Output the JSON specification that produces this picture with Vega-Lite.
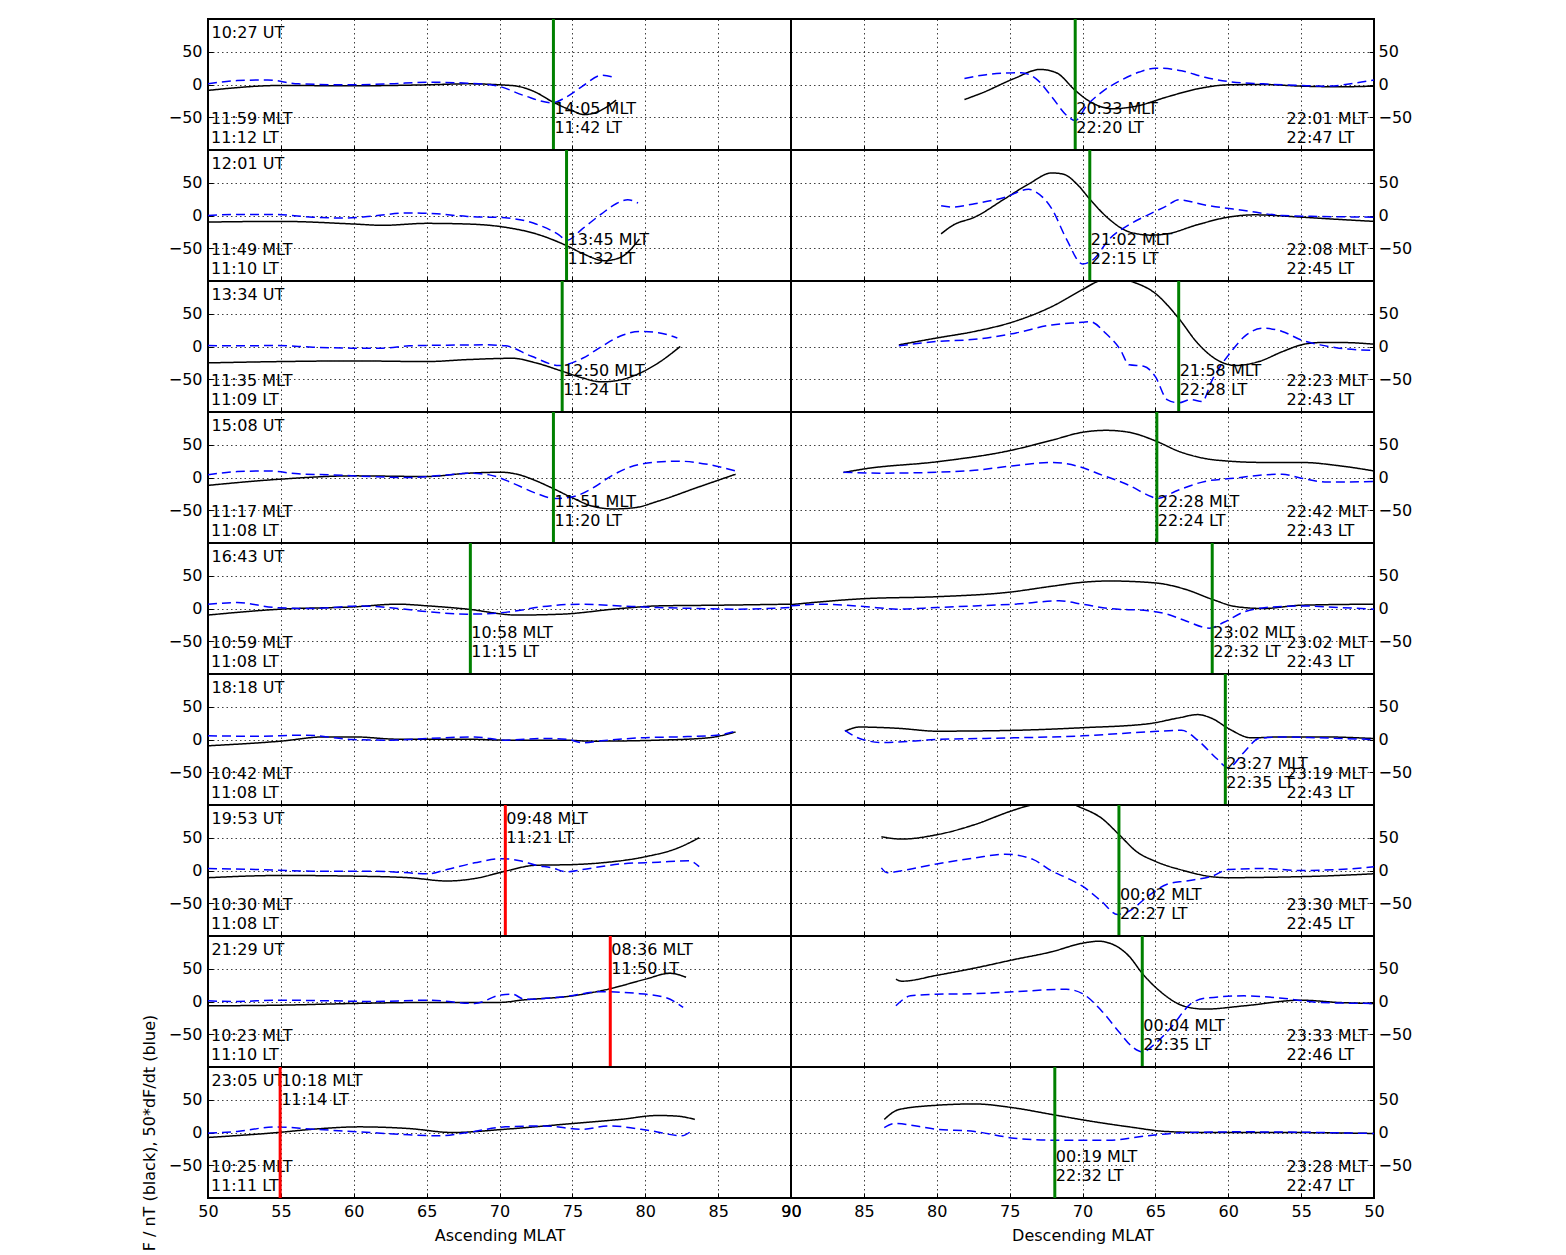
{
"$schema":"https://vega.github.io/schema/vega-lite/v6.json",
"padding":{"left":140,"top":16,"right":10,"bottom":0},
"background":"#ffffff",
"columns":2,
"spacing":0,
"bounds":"flush",
"datasets":{
"t":[
{"r":1,"s":"L","ut":"10:27 UT","cn":"11:59 MLT\n11:12 LT","bx":73.7,"bc":"green","bl":"14:05 MLT\n11:42 LT"},
{"r":1,"s":"R","ut":"","cn":"22:01 MLT\n22:47 LT","bx":70.5,"bc":"green","bl":"20:33 MLT\n22:20 LT"},
{"r":2,"s":"L","ut":"12:01 UT","cn":"11:49 MLT\n11:10 LT","bx":74.6,"bc":"green","bl":"13:45 MLT\n11:32 LT"},
{"r":2,"s":"R","ut":"","cn":"22:08 MLT\n22:45 LT","bx":69.5,"bc":"green","bl":"21:02 MLT\n22:15 LT"},
{"r":3,"s":"L","ut":"13:34 UT","cn":"11:35 MLT\n11:09 LT","bx":74.3,"bc":"green","bl":"12:50 MLT\n11:24 LT"},
{"r":3,"s":"R","ut":"","cn":"22:23 MLT\n22:43 LT","bx":63.4,"bc":"green","bl":"21:58 MLT\n22:28 LT"},
{"r":4,"s":"L","ut":"15:08 UT","cn":"11:17 MLT\n11:08 LT","bx":73.7,"bc":"green","bl":"11:51 MLT\n11:20 LT"},
{"r":4,"s":"R","ut":"","cn":"22:42 MLT\n22:43 LT","bx":64.9,"bc":"green","bl":"22:28 MLT\n22:24 LT"},
{"r":5,"s":"L","ut":"16:43 UT","cn":"10:59 MLT\n11:08 LT","bx":68.0,"bc":"green","bl":"10:58 MLT\n11:15 LT"},
{"r":5,"s":"R","ut":"","cn":"23:02 MLT\n22:43 LT","bx":61.1,"bc":"green","bl":"23:02 MLT\n22:32 LT"},
{"r":6,"s":"L","ut":"18:18 UT","cn":"10:42 MLT\n11:08 LT","bx":null,"bc":"none","bl":""},
{"r":6,"s":"R","ut":"","cn":"23:19 MLT\n22:43 LT","bx":60.2,"bc":"green","bl":"23:27 MLT\n22:35 LT"},
{"r":7,"s":"L","ut":"19:53 UT","cn":"10:30 MLT\n11:08 LT","bx":70.4,"bc":"red","bl":"09:48 MLT\n11:21 LT"},
{"r":7,"s":"R","ut":"","cn":"23:30 MLT\n22:45 LT","bx":67.5,"bc":"green","bl":"00:02 MLT\n22:27 LT"},
{"r":8,"s":"L","ut":"21:29 UT","cn":"10:23 MLT\n11:10 LT","bx":77.6,"bc":"red","bl":"08:36 MLT\n11:50 LT"},
{"r":8,"s":"R","ut":"","cn":"23:33 MLT\n22:46 LT","bx":65.9,"bc":"green","bl":"00:04 MLT\n22:35 LT"},
{"r":9,"s":"L","ut":"23:05 UT","cn":"10:25 MLT\n11:11 LT","bx":54.95,"bc":"red","bl":"10:18 MLT\n11:14 LT"},
{"r":9,"s":"R","ut":"","cn":"23:28 MLT\n22:47 LT","bx":71.9,"bc":"green","bl":"00:19 MLT\n22:32 LT"}
],
"c":[
{"r":1,"s":"L","v":"F","x":50,"y":-9},{"r":1,"s":"L","v":"F","x":55,"y":-1.5},{"r":1,"s":"L","v":"F","x":60,"y":-2},{"r":1,"s":"L","v":"F","x":65,"y":-0.5},{"r":1,"s":"L","v":"F","x":67.8,"y":1},{"r":1,"s":"L","v":"F","x":70.4,"y":-1},{"r":1,"s":"L","v":"F","x":71.2,"y":-2.5},{"r":1,"s":"L","v":"F","x":72.5,"y":-12},{"r":1,"s":"L","v":"F","x":73.6,"y":-26},{"r":1,"s":"L","v":"F","x":75,"y":-40},{"r":1,"s":"L","v":"F","x":75.8,"y":-46},{"r":1,"s":"L","v":"F","x":76.7,"y":-42},{"r":1,"s":"L","v":"F","x":78,"y":-24},
{"r":1,"s":"L","v":"dF","x":50,"y":1},{"r":1,"s":"L","v":"dF","x":52,"y":6},{"r":1,"s":"L","v":"dF","x":54.1,"y":7},{"r":1,"s":"L","v":"dF","x":56.2,"y":1},{"r":1,"s":"L","v":"dF","x":59.9,"y":-0.5},{"r":1,"s":"L","v":"dF","x":62.5,"y":1},{"r":1,"s":"L","v":"dF","x":65.1,"y":3.5},{"r":1,"s":"L","v":"dF","x":67.8,"y":2},{"r":1,"s":"L","v":"dF","x":69.9,"y":-2.5},{"r":1,"s":"L","v":"dF","x":71.7,"y":-17},{"r":1,"s":"L","v":"dF","x":73.6,"y":-28},{"r":1,"s":"L","v":"dF","x":74.6,"y":-19},{"r":1,"s":"L","v":"dF","x":75.7,"y":-2.5},{"r":1,"s":"L","v":"dF","x":77,"y":14},{"r":1,"s":"L","v":"dF","x":78,"y":10},
{"r":1,"s":"R","v":"F","x":78.1,"y":-23},{"r":1,"s":"R","v":"F","x":76.8,"y":-12},{"r":1,"s":"R","v":"F","x":74.7,"y":9},{"r":1,"s":"R","v":"F","x":72.9,"y":23},{"r":1,"s":"R","v":"F","x":71.8,"y":18},{"r":1,"s":"R","v":"F","x":70.5,"y":-9},{"r":1,"s":"R","v":"F","x":69.5,"y":-26},{"r":1,"s":"R","v":"F","x":67.9,"y":-37},{"r":1,"s":"R","v":"F","x":66.3,"y":-33},{"r":1,"s":"R","v":"F","x":64.2,"y":-19},{"r":1,"s":"R","v":"F","x":62.1,"y":-6.6},{"r":1,"s":"R","v":"F","x":60,"y":-0.5},{"r":1,"s":"R","v":"F","x":57.6,"y":0},{"r":1,"s":"R","v":"F","x":55,"y":-2.5},{"r":1,"s":"R","v":"F","x":52.4,"y":-3.5},{"r":1,"s":"R","v":"F","x":50,"y":-2.5},
{"r":1,"s":"R","v":"dF","x":78.1,"y":9},{"r":1,"s":"R","v":"dF","x":76.6,"y":15},{"r":1,"s":"R","v":"dF","x":74.2,"y":18},{"r":1,"s":"R","v":"dF","x":73.2,"y":9},{"r":1,"s":"R","v":"dF","x":72.1,"y":-19},{"r":1,"s":"R","v":"dF","x":71.1,"y":-47},{"r":1,"s":"R","v":"dF","x":70.5,"y":-55},{"r":1,"s":"R","v":"dF","x":69.7,"y":-32},{"r":1,"s":"R","v":"dF","x":68.7,"y":-12},{"r":1,"s":"R","v":"dF","x":67.4,"y":6},{"r":1,"s":"R","v":"dF","x":66.1,"y":19},{"r":1,"s":"R","v":"dF","x":65,"y":25},{"r":1,"s":"R","v":"dF","x":63.2,"y":21},{"r":1,"s":"R","v":"dF","x":61.6,"y":11},{"r":1,"s":"R","v":"dF","x":60,"y":4.5},{"r":1,"s":"R","v":"dF","x":57.6,"y":1},{"r":1,"s":"R","v":"dF","x":55,"y":-1.5},{"r":1,"s":"R","v":"dF","x":53.2,"y":-2.5},{"r":1,"s":"R","v":"dF","x":51.6,"y":1},{"r":1,"s":"R","v":"dF","x":50,"y":7},
{"r":2,"s":"L","v":"F","x":50,"y":-10},{"r":2,"s":"L","v":"F","x":55,"y":-9},{"r":2,"s":"L","v":"F","x":60,"y":-13},{"r":2,"s":"L","v":"F","x":62,"y":-15},{"r":2,"s":"L","v":"F","x":65,"y":-12},{"r":2,"s":"L","v":"F","x":67.8,"y":-13},{"r":2,"s":"L","v":"F","x":70.4,"y":-18},{"r":2,"s":"L","v":"F","x":72.5,"y":-28},{"r":2,"s":"L","v":"F","x":74.6,"y":-46},{"r":2,"s":"L","v":"F","x":75.7,"y":-58},{"r":2,"s":"L","v":"F","x":77.2,"y":-69},{"r":2,"s":"L","v":"F","x":78.3,"y":-64},{"r":2,"s":"L","v":"F","x":79.6,"y":-36},
{"r":2,"s":"L","v":"dF","x":50,"y":0},{"r":2,"s":"L","v":"dF","x":52,"y":1.5},{"r":2,"s":"L","v":"dF","x":54.6,"y":1.5},{"r":2,"s":"L","v":"dF","x":57.2,"y":-2.5},{"r":2,"s":"L","v":"dF","x":59.3,"y":-4},{"r":2,"s":"L","v":"dF","x":61.2,"y":-1},{"r":2,"s":"L","v":"dF","x":63.8,"y":4},{"r":2,"s":"L","v":"dF","x":65.7,"y":2.5},{"r":2,"s":"L","v":"dF","x":67.8,"y":-1.5},{"r":2,"s":"L","v":"dF","x":70.4,"y":-3.5},{"r":2,"s":"L","v":"dF","x":72.5,"y":-13},{"r":2,"s":"L","v":"dF","x":74.1,"y":-30},{"r":2,"s":"L","v":"dF","x":74.6,"y":-38},{"r":2,"s":"L","v":"dF","x":75.7,"y":-20},{"r":2,"s":"L","v":"dF","x":77,"y":2.5},{"r":2,"s":"L","v":"dF","x":78,"y":18},{"r":2,"s":"L","v":"dF","x":78.8,"y":24},{"r":2,"s":"L","v":"dF","x":79.5,"y":19},
{"r":2,"s":"R","v":"F","x":79.7,"y":-28},{"r":2,"s":"R","v":"F","x":78.9,"y":-15},{"r":2,"s":"R","v":"F","x":77.4,"y":-2.5},{"r":2,"s":"R","v":"F","x":75.3,"y":26},{"r":2,"s":"R","v":"F","x":73.7,"y":48},{"r":2,"s":"R","v":"F","x":72.1,"y":65},{"r":2,"s":"R","v":"F","x":71.3,"y":63},{"r":2,"s":"R","v":"F","x":70.3,"y":46},{"r":2,"s":"R","v":"F","x":69.5,"y":25},{"r":2,"s":"R","v":"F","x":68.2,"y":-5},{"r":2,"s":"R","v":"F","x":66.8,"y":-25},{"r":2,"s":"R","v":"F","x":65.3,"y":-30},{"r":2,"s":"R","v":"F","x":64.2,"y":-28},{"r":2,"s":"R","v":"F","x":62.1,"y":-14},{"r":2,"s":"R","v":"F","x":60,"y":-2.5},{"r":2,"s":"R","v":"F","x":58.2,"y":1},{"r":2,"s":"R","v":"F","x":55,"y":-2.5},{"r":2,"s":"R","v":"F","x":52.4,"y":-6},{"r":2,"s":"R","v":"F","x":50,"y":-9},
{"r":2,"s":"R","v":"dF","x":79.7,"y":15},{"r":2,"s":"R","v":"dF","x":78.9,"y":13},{"r":2,"s":"R","v":"dF","x":77.4,"y":18},{"r":2,"s":"R","v":"dF","x":75.3,"y":28},{"r":2,"s":"R","v":"dF","x":73.7,"y":40},{"r":2,"s":"R","v":"dF","x":73.2,"y":36},{"r":2,"s":"R","v":"dF","x":72.1,"y":10},{"r":2,"s":"R","v":"dF","x":71.1,"y":-36},{"r":2,"s":"R","v":"dF","x":70,"y":-74},{"r":2,"s":"R","v":"dF","x":69.2,"y":-66},{"r":2,"s":"R","v":"dF","x":68.2,"y":-37},{"r":2,"s":"R","v":"dF","x":66.8,"y":-14},{"r":2,"s":"R","v":"dF","x":65.5,"y":1},{"r":2,"s":"R","v":"dF","x":64.2,"y":15},{"r":2,"s":"R","v":"dF","x":63.4,"y":24},{"r":2,"s":"R","v":"dF","x":61.6,"y":16},{"r":2,"s":"R","v":"dF","x":58.9,"y":7.6},{"r":2,"s":"R","v":"dF","x":56.3,"y":0},{"r":2,"s":"R","v":"dF","x":53.7,"y":-1.5},{"r":2,"s":"R","v":"dF","x":50,"y":-2.5},
{"r":3,"s":"L","v":"F","x":50,"y":-25},{"r":3,"s":"L","v":"F","x":55,"y":-23},{"r":3,"s":"L","v":"F","x":60,"y":-22},{"r":3,"s":"L","v":"F","x":65,"y":-23},{"r":3,"s":"L","v":"F","x":67.8,"y":-20},{"r":3,"s":"L","v":"F","x":70.9,"y":-18},{"r":3,"s":"L","v":"F","x":72.5,"y":-25},{"r":3,"s":"L","v":"F","x":74.2,"y":-37},{"r":3,"s":"L","v":"F","x":75.7,"y":-48},{"r":3,"s":"L","v":"F","x":77,"y":-54},{"r":3,"s":"L","v":"F","x":78.3,"y":-51},{"r":3,"s":"L","v":"F","x":79.6,"y":-41},{"r":3,"s":"L","v":"F","x":80.9,"y":-25},{"r":3,"s":"L","v":"F","x":82.4,"y":0},
{"r":3,"s":"L","v":"dF","x":50,"y":1.5},{"r":3,"s":"L","v":"dF","x":52,"y":1},{"r":3,"s":"L","v":"dF","x":54.6,"y":1.5},{"r":3,"s":"L","v":"dF","x":57.2,"y":-1},{"r":3,"s":"L","v":"dF","x":59.9,"y":-2.5},{"r":3,"s":"L","v":"dF","x":62,"y":-2.5},{"r":3,"s":"L","v":"dF","x":63.8,"y":1},{"r":3,"s":"L","v":"dF","x":66.4,"y":2},{"r":3,"s":"L","v":"dF","x":69.1,"y":2.5},{"r":3,"s":"L","v":"dF","x":70.4,"y":1},{"r":3,"s":"L","v":"dF","x":72.2,"y":-15},{"r":3,"s":"L","v":"dF","x":74.1,"y":-29},{"r":3,"s":"L","v":"dF","x":75.7,"y":-18},{"r":3,"s":"L","v":"dF","x":77,"y":0},{"r":3,"s":"L","v":"dF","x":78.3,"y":16},{"r":3,"s":"L","v":"dF","x":79.6,"y":23},{"r":3,"s":"L","v":"dF","x":80.9,"y":21},{"r":3,"s":"L","v":"dF","x":82.2,"y":13},
{"r":3,"s":"R","v":"F","x":82.6,"y":2.5},{"r":3,"s":"R","v":"F","x":80,"y":13},{"r":3,"s":"R","v":"F","x":77.4,"y":23},{"r":3,"s":"R","v":"F","x":74.7,"y":38},{"r":3,"s":"R","v":"F","x":72.1,"y":61},{"r":3,"s":"R","v":"F","x":70,"y":87},{"r":3,"s":"R","v":"F","x":68.9,"y":100},{"r":3,"s":"R","v":"F","x":67.8,"y":106},{"r":3,"s":"R","v":"F","x":66.6,"y":99},{"r":3,"s":"R","v":"F","x":65,"y":81},{"r":3,"s":"R","v":"F","x":63.4,"y":43},{"r":3,"s":"R","v":"F","x":62.1,"y":5},{"r":3,"s":"R","v":"F","x":60.8,"y":-20},{"r":3,"s":"R","v":"F","x":59.5,"y":-29},{"r":3,"s":"R","v":"F","x":57.9,"y":-23},{"r":3,"s":"R","v":"F","x":56.3,"y":-8},{"r":3,"s":"R","v":"F","x":55,"y":2.5},{"r":3,"s":"R","v":"F","x":53.7,"y":6},{"r":3,"s":"R","v":"F","x":52.1,"y":6},{"r":3,"s":"R","v":"F","x":50,"y":3.5},
{"r":3,"s":"R","v":"dF","x":82.6,"y":1},{"r":3,"s":"R","v":"dF","x":80,"y":7.6},{"r":3,"s":"R","v":"dF","x":77.4,"y":11},{"r":3,"s":"R","v":"dF","x":74.7,"y":20},{"r":3,"s":"R","v":"dF","x":72.1,"y":33},{"r":3,"s":"R","v":"dF","x":70,"y":37},{"r":3,"s":"R","v":"dF","x":69.5,"y":38},{"r":3,"s":"R","v":"dF","x":68.4,"y":20},{"r":3,"s":"R","v":"dF","x":67.4,"y":-5},{"r":3,"s":"R","v":"dF","x":66.8,"y":-28},{"r":3,"s":"R","v":"dF","x":65.8,"y":-30},{"r":3,"s":"R","v":"dF","x":65,"y":-46},{"r":3,"s":"R","v":"dF","x":64.2,"y":-81},{"r":3,"s":"R","v":"dF","x":63.4,"y":-86},{"r":3,"s":"R","v":"dF","x":62.6,"y":-81},{"r":3,"s":"R","v":"dF","x":61.8,"y":-84},{"r":3,"s":"R","v":"dF","x":61.1,"y":-51},{"r":3,"s":"R","v":"dF","x":59.7,"y":-5},{"r":3,"s":"R","v":"dF","x":58.9,"y":15},{"r":3,"s":"R","v":"dF","x":57.6,"y":28},{"r":3,"s":"R","v":"dF","x":56.3,"y":23},{"r":3,"s":"R","v":"dF","x":55,"y":10},{"r":3,"s":"R","v":"dF","x":53.7,"y":2.5},{"r":3,"s":"R","v":"dF","x":52.4,"y":-2.5},{"r":3,"s":"R","v":"dF","x":50,"y":-6},
{"r":4,"s":"L","v":"F","x":50,"y":-12},{"r":4,"s":"L","v":"F","x":55,"y":-2.5},{"r":4,"s":"L","v":"F","x":60,"y":2.5},{"r":4,"s":"L","v":"F","x":65,"y":1.5},{"r":4,"s":"L","v":"F","x":67.8,"y":6.5},{"r":4,"s":"L","v":"F","x":70.1,"y":8},{"r":4,"s":"L","v":"F","x":71.2,"y":5},{"r":4,"s":"L","v":"F","x":72.5,"y":-5},{"r":4,"s":"L","v":"F","x":73.6,"y":-16},{"r":4,"s":"L","v":"F","x":75,"y":-31},{"r":4,"s":"L","v":"F","x":76.4,"y":-44},{"r":4,"s":"L","v":"F","x":77.8,"y":-48},{"r":4,"s":"L","v":"F","x":79.3,"y":-46},{"r":4,"s":"L","v":"F","x":80.9,"y":-36},{"r":4,"s":"L","v":"F","x":83.6,"y":-15},{"r":4,"s":"L","v":"F","x":86.2,"y":5},
{"r":4,"s":"L","v":"dF","x":50,"y":4},{"r":4,"s":"L","v":"dF","x":52,"y":9},{"r":4,"s":"L","v":"dF","x":54.1,"y":10},{"r":4,"s":"L","v":"dF","x":56.2,"y":5.6},{"r":4,"s":"L","v":"dF","x":58.6,"y":4},{"r":4,"s":"L","v":"dF","x":61.2,"y":1.5},{"r":4,"s":"L","v":"dF","x":63.8,"y":0},{"r":4,"s":"L","v":"dF","x":66.4,"y":4},{"r":4,"s":"L","v":"dF","x":67.8,"y":6.5},{"r":4,"s":"L","v":"dF","x":69.3,"y":4},{"r":4,"s":"L","v":"dF","x":70.9,"y":-8.6},{"r":4,"s":"L","v":"dF","x":72.5,"y":-24},{"r":4,"s":"L","v":"dF","x":73.8,"y":-32},{"r":4,"s":"L","v":"dF","x":75.1,"y":-29},{"r":4,"s":"L","v":"dF","x":76.4,"y":-16},{"r":4,"s":"L","v":"dF","x":77.8,"y":4},{"r":4,"s":"L","v":"dF","x":79.6,"y":20},{"r":4,"s":"L","v":"dF","x":82.2,"y":25},{"r":4,"s":"L","v":"dF","x":84.3,"y":20},{"r":4,"s":"L","v":"dF","x":86.2,"y":10},
{"r":4,"s":"R","v":"F","x":86.4,"y":7.6},{"r":4,"s":"R","v":"F","x":85,"y":13},{"r":4,"s":"R","v":"F","x":80,"y":24},{"r":4,"s":"R","v":"F","x":75,"y":41},{"r":4,"s":"R","v":"F","x":72.1,"y":57},{"r":4,"s":"R","v":"F","x":70,"y":69},{"r":4,"s":"R","v":"F","x":68.4,"y":72},{"r":4,"s":"R","v":"F","x":66.8,"y":69},{"r":4,"s":"R","v":"F","x":64.9,"y":55},{"r":4,"s":"R","v":"F","x":63.4,"y":40},{"r":4,"s":"R","v":"F","x":61.6,"y":29},{"r":4,"s":"R","v":"F","x":60,"y":25},{"r":4,"s":"R","v":"F","x":57.6,"y":23},{"r":4,"s":"R","v":"F","x":55,"y":23},{"r":4,"s":"R","v":"F","x":52.4,"y":18},{"r":4,"s":"R","v":"F","x":50,"y":10},
{"r":4,"s":"R","v":"dF","x":86.4,"y":8},{"r":4,"s":"R","v":"dF","x":83.9,"y":6.6},{"r":4,"s":"R","v":"dF","x":80,"y":8},{"r":4,"s":"R","v":"dF","x":77.4,"y":11},{"r":4,"s":"R","v":"dF","x":74.7,"y":18},{"r":4,"s":"R","v":"dF","x":72.1,"y":23},{"r":4,"s":"R","v":"dF","x":70.3,"y":17},{"r":4,"s":"R","v":"dF","x":68.7,"y":4},{"r":4,"s":"R","v":"dF","x":66.8,"y":-12},{"r":4,"s":"R","v":"dF","x":65.3,"y":-29},{"r":4,"s":"R","v":"dF","x":64.9,"y":-32},{"r":4,"s":"R","v":"dF","x":63.4,"y":-19},{"r":4,"s":"R","v":"dF","x":61.6,"y":-6},{"r":4,"s":"R","v":"dF","x":59.5,"y":-1},{"r":4,"s":"R","v":"dF","x":57.6,"y":4},{"r":4,"s":"R","v":"dF","x":56.3,"y":5},{"r":4,"s":"R","v":"dF","x":55,"y":-1},{"r":4,"s":"R","v":"dF","x":53.2,"y":-7},{"r":4,"s":"R","v":"dF","x":50,"y":-6},
{"r":5,"s":"L","v":"F","x":50,"y":-10},{"r":5,"s":"L","v":"F","x":55,"y":-1},{"r":5,"s":"L","v":"F","x":60,"y":2.5},{"r":5,"s":"L","v":"F","x":63,"y":6.6},{"r":5,"s":"L","v":"F","x":65.1,"y":4},{"r":5,"s":"L","v":"F","x":67.8,"y":-1},{"r":5,"s":"L","v":"F","x":71.2,"y":-10},{"r":5,"s":"L","v":"F","x":74.3,"y":-8.6},{"r":5,"s":"L","v":"F","x":78.3,"y":0},{"r":5,"s":"L","v":"F","x":80.9,"y":4},{"r":5,"s":"L","v":"F","x":84.9,"y":5},{"r":5,"s":"L","v":"F","x":90,"y":6.6},
{"r":5,"s":"L","v":"dF","x":50,"y":6.6},{"r":5,"s":"L","v":"dF","x":52,"y":9},{"r":5,"s":"L","v":"dF","x":54.6,"y":1.5},{"r":5,"s":"L","v":"dF","x":57.2,"y":0},{"r":5,"s":"L","v":"dF","x":60.4,"y":4},{"r":5,"s":"L","v":"dF","x":63,"y":0},{"r":5,"s":"L","v":"dF","x":65.1,"y":-5},{"r":5,"s":"L","v":"dF","x":67.8,"y":-8.6},{"r":5,"s":"L","v":"dF","x":69.9,"y":-7},{"r":5,"s":"L","v":"dF","x":71.2,"y":-3.5},{"r":5,"s":"L","v":"dF","x":73,"y":3},{"r":5,"s":"L","v":"dF","x":75.7,"y":6.6},{"r":5,"s":"L","v":"dF","x":78.3,"y":4},{"r":5,"s":"L","v":"dF","x":80.9,"y":1.5},{"r":5,"s":"L","v":"dF","x":83.6,"y":0},{"r":5,"s":"L","v":"dF","x":86.2,"y":-1},{"r":5,"s":"L","v":"dF","x":90,"y":1.5},
{"r":5,"s":"R","v":"F","x":90,"y":6},{"r":5,"s":"R","v":"F","x":85,"y":15},{"r":5,"s":"R","v":"F","x":80,"y":18},{"r":5,"s":"R","v":"F","x":75,"y":25},{"r":5,"s":"R","v":"F","x":72.1,"y":34},{"r":5,"s":"R","v":"F","x":70,"y":40},{"r":5,"s":"R","v":"F","x":68.2,"y":42},{"r":5,"s":"R","v":"F","x":65,"y":39},{"r":5,"s":"R","v":"F","x":62.9,"y":29},{"r":5,"s":"R","v":"F","x":61.1,"y":14},{"r":5,"s":"R","v":"F","x":59.5,"y":3},{"r":5,"s":"R","v":"F","x":57.6,"y":0},{"r":5,"s":"R","v":"F","x":55,"y":5},{"r":5,"s":"R","v":"F","x":50,"y":6.6},
{"r":5,"s":"R","v":"dF","x":90,"y":4},{"r":5,"s":"R","v":"dF","x":87.9,"y":6.6},{"r":5,"s":"R","v":"dF","x":85,"y":3},{"r":5,"s":"R","v":"dF","x":82.6,"y":-1},{"r":5,"s":"R","v":"dF","x":80,"y":1.5},{"r":5,"s":"R","v":"dF","x":77.4,"y":4},{"r":5,"s":"R","v":"dF","x":74.7,"y":6.6},{"r":5,"s":"R","v":"dF","x":71.6,"y":11.7},{"r":5,"s":"R","v":"dF","x":70,"y":6.6},{"r":5,"s":"R","v":"dF","x":68.2,"y":0},{"r":5,"s":"R","v":"dF","x":65.5,"y":-3.5},{"r":5,"s":"R","v":"dF","x":64.2,"y":-8.6},{"r":5,"s":"R","v":"dF","x":62.9,"y":-19},{"r":5,"s":"R","v":"dF","x":61.3,"y":-30},{"r":5,"s":"R","v":"dF","x":60.3,"y":-21},{"r":5,"s":"R","v":"dF","x":58.9,"y":-5},{"r":5,"s":"R","v":"dF","x":57.4,"y":1.5},{"r":5,"s":"R","v":"dF","x":55,"y":4},{"r":5,"s":"R","v":"dF","x":52.4,"y":1.5},{"r":5,"s":"R","v":"dF","x":50,"y":-1},
{"r":6,"s":"L","v":"F","x":50,"y":-9.6},{"r":6,"s":"L","v":"F","x":55,"y":-2.5},{"r":6,"s":"L","v":"F","x":58,"y":4},{"r":6,"s":"L","v":"F","x":60,"y":4},{"r":6,"s":"L","v":"F","x":63,"y":0.5},{"r":6,"s":"L","v":"F","x":67.8,"y":0.5},{"r":6,"s":"L","v":"F","x":70.4,"y":-1},{"r":6,"s":"L","v":"F","x":74.3,"y":-1},{"r":6,"s":"L","v":"F","x":76.4,"y":-2.5},{"r":6,"s":"L","v":"F","x":80.9,"y":-1},{"r":6,"s":"L","v":"F","x":84.3,"y":2.5},{"r":6,"s":"L","v":"F","x":86.2,"y":11.6},
{"r":6,"s":"L","v":"dF","x":50,"y":5.6},{"r":6,"s":"L","v":"dF","x":53.3,"y":5},{"r":6,"s":"L","v":"dF","x":56.7,"y":6.6},{"r":6,"s":"L","v":"dF","x":59.9,"y":0},{"r":6,"s":"L","v":"dF","x":62.5,"y":-1},{"r":6,"s":"L","v":"dF","x":65.1,"y":1.5},{"r":6,"s":"L","v":"dF","x":68.3,"y":4},{"r":6,"s":"L","v":"dF","x":70.4,"y":-1},{"r":6,"s":"L","v":"dF","x":73,"y":1.5},{"r":6,"s":"L","v":"dF","x":74.6,"y":0.5},{"r":6,"s":"L","v":"dF","x":75.7,"y":-5},{"r":6,"s":"L","v":"dF","x":77,"y":-2},{"r":6,"s":"L","v":"dF","x":79.6,"y":2.5},{"r":6,"s":"L","v":"dF","x":82.2,"y":4},{"r":6,"s":"L","v":"dF","x":84.9,"y":6.6},{"r":6,"s":"L","v":"dF","x":86.2,"y":12.7},
{"r":6,"s":"R","v":"F","x":86.3,"y":12.7},{"r":6,"s":"R","v":"F","x":85.3,"y":19},{"r":6,"s":"R","v":"F","x":82.6,"y":17},{"r":6,"s":"R","v":"F","x":80,"y":12.7},{"r":6,"s":"R","v":"F","x":74.7,"y":14},{"r":6,"s":"R","v":"F","x":70,"y":18},{"r":6,"s":"R","v":"F","x":65.5,"y":24},{"r":6,"s":"R","v":"F","x":63.4,"y":33},{"r":6,"s":"R","v":"F","x":62.1,"y":38},{"r":6,"s":"R","v":"F","x":61.1,"y":32},{"r":6,"s":"R","v":"F","x":60,"y":17},{"r":6,"s":"R","v":"F","x":58.4,"y":2.5},{"r":6,"s":"R","v":"F","x":56.3,"y":4},{"r":6,"s":"R","v":"F","x":53.7,"y":4},{"r":6,"s":"R","v":"F","x":50,"y":1.5},
{"r":6,"s":"R","v":"dF","x":86.3,"y":14},{"r":6,"s":"R","v":"dF","x":85.3,"y":1.5},{"r":6,"s":"R","v":"dF","x":83.7,"y":-4.6},{"r":6,"s":"R","v":"dF","x":80,"y":0},{"r":6,"s":"R","v":"dF","x":74.7,"y":2.5},{"r":6,"s":"R","v":"dF","x":70,"y":5.6},{"r":6,"s":"R","v":"dF","x":65.5,"y":11.7},{"r":6,"s":"R","v":"dF","x":63.2,"y":14},{"r":6,"s":"R","v":"dF","x":62.1,"y":-1},{"r":6,"s":"R","v":"dF","x":60.8,"y":-29},{"r":6,"s":"R","v":"dF","x":60,"y":-43},{"r":6,"s":"R","v":"dF","x":58.9,"y":-19},{"r":6,"s":"R","v":"dF","x":57.9,"y":1.5},{"r":6,"s":"R","v":"dF","x":56.3,"y":4},{"r":6,"s":"R","v":"dF","x":53.7,"y":2.5},{"r":6,"s":"R","v":"dF","x":50,"y":0},
{"r":7,"s":"L","v":"F","x":50,"y":-11},{"r":7,"s":"L","v":"F","x":55,"y":-7.6},{"r":7,"s":"L","v":"F","x":60,"y":-8.6},{"r":7,"s":"L","v":"F","x":63.8,"y":-11},{"r":7,"s":"L","v":"F","x":66.4,"y":-16},{"r":7,"s":"L","v":"F","x":68.6,"y":-11},{"r":7,"s":"L","v":"F","x":70.4,"y":-1},{"r":7,"s":"L","v":"F","x":72.5,"y":8},{"r":7,"s":"L","v":"F","x":75,"y":9},{"r":7,"s":"L","v":"F","x":77,"y":11.7},{"r":7,"s":"L","v":"F","x":80,"y":21},{"r":7,"s":"L","v":"F","x":82.2,"y":34},{"r":7,"s":"L","v":"F","x":83.7,"y":50},
{"r":7,"s":"L","v":"dF","x":50,"y":3},{"r":7,"s":"L","v":"dF","x":53.3,"y":1.5},{"r":7,"s":"L","v":"dF","x":57.2,"y":-1},{"r":7,"s":"L","v":"dF","x":61.2,"y":-1},{"r":7,"s":"L","v":"dF","x":63,"y":-2.5},{"r":7,"s":"L","v":"dF","x":65.1,"y":-5},{"r":7,"s":"L","v":"dF","x":66.4,"y":1.5},{"r":7,"s":"L","v":"dF","x":68.3,"y":11.7},{"r":7,"s":"L","v":"dF","x":70.1,"y":18},{"r":7,"s":"L","v":"dF","x":71.4,"y":15},{"r":7,"s":"L","v":"dF","x":72.5,"y":8},{"r":7,"s":"L","v":"dF","x":73.6,"y":4},{"r":7,"s":"L","v":"dF","x":74.6,"y":-2},{"r":7,"s":"L","v":"dF","x":75.7,"y":1.5},{"r":7,"s":"L","v":"dF","x":78.3,"y":10},{"r":7,"s":"L","v":"dF","x":80.9,"y":12.7},{"r":7,"s":"L","v":"dF","x":83,"y":15},{"r":7,"s":"L","v":"dF","x":83.7,"y":6},
{"r":7,"s":"R","v":"F","x":83.8,"y":51.5},{"r":7,"s":"R","v":"F","x":82.4,"y":48},{"r":7,"s":"R","v":"F","x":80,"y":54.6},{"r":7,"s":"R","v":"F","x":77.4,"y":70},{"r":7,"s":"R","v":"F","x":75,"y":90},{"r":7,"s":"R","v":"F","x":73.7,"y":99},{"r":7,"s":"R","v":"F","x":72.5,"y":104},{"r":7,"s":"R","v":"F","x":71.2,"y":104},{"r":7,"s":"R","v":"F","x":70,"y":95},{"r":7,"s":"R","v":"F","x":68.7,"y":80},{"r":7,"s":"R","v":"F","x":67.5,"y":55},{"r":7,"s":"R","v":"F","x":66.3,"y":29},{"r":7,"s":"R","v":"F","x":65,"y":14},{"r":7,"s":"R","v":"F","x":62.9,"y":-1},{"r":7,"s":"R","v":"F","x":61.3,"y":-9},{"r":7,"s":"R","v":"F","x":60,"y":-11},{"r":7,"s":"R","v":"F","x":56.3,"y":-10},{"r":7,"s":"R","v":"F","x":53.7,"y":-8.6},{"r":7,"s":"R","v":"F","x":50,"y":-5},
{"r":7,"s":"R","v":"dF","x":83.8,"y":4},{"r":7,"s":"R","v":"dF","x":83.4,"y":-3.5},{"r":7,"s":"R","v":"dF","x":82.6,"y":-1},{"r":7,"s":"R","v":"dF","x":80,"y":10},{"r":7,"s":"R","v":"dF","x":77.4,"y":19},{"r":7,"s":"R","v":"dF","x":75.3,"y":25},{"r":7,"s":"R","v":"dF","x":73.4,"y":17},{"r":7,"s":"R","v":"dF","x":72.1,"y":-1},{"r":7,"s":"R","v":"dF","x":71.1,"y":-11},{"r":7,"s":"R","v":"dF","x":70,"y":-24},{"r":7,"s":"R","v":"dF","x":68.7,"y":-47},{"r":7,"s":"R","v":"dF","x":67.6,"y":-67},{"r":7,"s":"R","v":"dF","x":66.8,"y":-62},{"r":7,"s":"R","v":"dF","x":65.5,"y":-39},{"r":7,"s":"R","v":"dF","x":64.2,"y":-21},{"r":7,"s":"R","v":"dF","x":62.9,"y":-16},{"r":7,"s":"R","v":"dF","x":61.1,"y":-8.6},{"r":7,"s":"R","v":"dF","x":60,"y":1.5},{"r":7,"s":"R","v":"dF","x":57.6,"y":3},{"r":7,"s":"R","v":"dF","x":55,"y":0},{"r":7,"s":"R","v":"dF","x":52.4,"y":1.5},{"r":7,"s":"R","v":"dF","x":50,"y":5.6},
{"r":8,"s":"L","v":"F","x":50,"y":-6.6},{"r":8,"s":"L","v":"F","x":55,"y":-5.6},{"r":8,"s":"L","v":"F","x":60,"y":-3},{"r":8,"s":"L","v":"F","x":65,"y":-1.5},{"r":8,"s":"L","v":"F","x":69.9,"y":-1.5},{"r":8,"s":"L","v":"F","x":71.7,"y":2.5},{"r":8,"s":"L","v":"F","x":75,"y":8.6},{"r":8,"s":"L","v":"F","x":77.5,"y":19},{"r":8,"s":"L","v":"F","x":80,"y":34},{"r":8,"s":"L","v":"F","x":81.7,"y":43},{"r":8,"s":"L","v":"F","x":82.8,"y":37},
{"r":8,"s":"L","v":"dF","x":50,"y":1},{"r":8,"s":"L","v":"dF","x":52,"y":0},{"r":8,"s":"L","v":"dF","x":54.6,"y":2},{"r":8,"s":"L","v":"dF","x":58.6,"y":1},{"r":8,"s":"L","v":"dF","x":61.2,"y":0},{"r":8,"s":"L","v":"dF","x":65.1,"y":2},{"r":8,"s":"L","v":"dF","x":68.3,"y":-3},{"r":8,"s":"L","v":"dF","x":70.1,"y":10},{"r":8,"s":"L","v":"dF","x":70.9,"y":11},{"r":8,"s":"L","v":"dF","x":71.7,"y":3.5},{"r":8,"s":"L","v":"dF","x":74.3,"y":7},{"r":8,"s":"L","v":"dF","x":77,"y":15},{"r":8,"s":"L","v":"dF","x":79.6,"y":12},{"r":8,"s":"L","v":"dF","x":81.4,"y":6},{"r":8,"s":"L","v":"dF","x":82.6,"y":-9},
{"r":8,"s":"R","v":"F","x":82.8,"y":34},{"r":8,"s":"R","v":"F","x":82.4,"y":31},{"r":8,"s":"R","v":"F","x":80,"y":40},{"r":8,"s":"R","v":"F","x":77.4,"y":51},{"r":8,"s":"R","v":"F","x":74.7,"y":64},{"r":8,"s":"R","v":"F","x":72.1,"y":76},{"r":8,"s":"R","v":"F","x":70,"y":89},{"r":8,"s":"R","v":"F","x":68.9,"y":92},{"r":8,"s":"R","v":"F","x":67.9,"y":87},{"r":8,"s":"R","v":"F","x":66.8,"y":69},{"r":8,"s":"R","v":"F","x":65.9,"y":43},{"r":8,"s":"R","v":"F","x":64.7,"y":16},{"r":8,"s":"R","v":"F","x":62.9,"y":-8},{"r":8,"s":"R","v":"F","x":61.6,"y":-11.6},{"r":8,"s":"R","v":"F","x":58.9,"y":-6.6},{"r":8,"s":"R","v":"F","x":55,"y":2},{"r":8,"s":"R","v":"F","x":52.4,"y":-1.5},{"r":8,"s":"R","v":"F","x":50,"y":-3},
{"r":8,"s":"R","v":"dF","x":82.8,"y":-6.6},{"r":8,"s":"R","v":"dF","x":81.8,"y":8.6},{"r":8,"s":"R","v":"dF","x":80,"y":11},{"r":8,"s":"R","v":"dF","x":77.4,"y":12},{"r":8,"s":"R","v":"dF","x":74.7,"y":15},{"r":8,"s":"R","v":"dF","x":71.1,"y":18.6},{"r":8,"s":"R","v":"dF","x":70,"y":12},{"r":8,"s":"R","v":"dF","x":68.7,"y":-14},{"r":8,"s":"R","v":"dF","x":67.4,"y":-49},{"r":8,"s":"R","v":"dF","x":66.6,"y":-69},{"r":8,"s":"R","v":"dF","x":65.9,"y":-77},{"r":8,"s":"R","v":"dF","x":65,"y":-64},{"r":8,"s":"R","v":"dF","x":63.9,"y":-39},{"r":8,"s":"R","v":"dF","x":62.6,"y":-4},{"r":8,"s":"R","v":"dF","x":61.6,"y":5},{"r":8,"s":"R","v":"dF","x":58.9,"y":8.6},{"r":8,"s":"R","v":"dF","x":56.3,"y":5},{"r":8,"s":"R","v":"dF","x":53.7,"y":-1.5},{"r":8,"s":"R","v":"dF","x":50,"y":-3},
{"r":9,"s":"L","v":"F","x":50,"y":-7.6},{"r":9,"s":"L","v":"F","x":54.8,"y":0},{"r":9,"s":"L","v":"F","x":57.2,"y":5},{"r":9,"s":"L","v":"F","x":60.4,"y":8.6},{"r":9,"s":"L","v":"F","x":63.8,"y":6},{"r":9,"s":"L","v":"F","x":66.8,"y":0},{"r":9,"s":"L","v":"F","x":70.4,"y":5},{"r":9,"s":"L","v":"F","x":75,"y":13.7},{"r":9,"s":"L","v":"F","x":78.3,"y":20},{"r":9,"s":"L","v":"F","x":80.9,"y":26},{"r":9,"s":"L","v":"F","x":82.2,"y":25},{"r":9,"s":"L","v":"F","x":83.4,"y":20},
{"r":9,"s":"L","v":"dF","x":50,"y":-1},{"r":9,"s":"L","v":"dF","x":52,"y":1.5},{"r":9,"s":"L","v":"dF","x":54.6,"y":8.6},{"r":9,"s":"L","v":"dF","x":57.2,"y":5},{"r":9,"s":"L","v":"dF","x":60.4,"y":1},{"r":9,"s":"L","v":"dF","x":63.8,"y":-3.5},{"r":9,"s":"L","v":"dF","x":65.9,"y":-5},{"r":9,"s":"L","v":"dF","x":67.8,"y":0},{"r":9,"s":"L","v":"dF","x":70.4,"y":8.6},{"r":9,"s":"L","v":"dF","x":73,"y":10},{"r":9,"s":"L","v":"dF","x":75.7,"y":5},{"r":9,"s":"L","v":"dF","x":77.5,"y":10},{"r":9,"s":"L","v":"dF","x":80.4,"y":2.5},{"r":9,"s":"L","v":"dF","x":82.5,"y":-5},{"r":9,"s":"L","v":"dF","x":83.3,"y":5},
{"r":9,"s":"R","v":"F","x":83.6,"y":20},{"r":9,"s":"R","v":"F","x":82.6,"y":35},{"r":9,"s":"R","v":"F","x":80,"y":41.6},{"r":9,"s":"R","v":"F","x":77.4,"y":43.6},{"r":9,"s":"R","v":"F","x":74.7,"y":37.6},{"r":9,"s":"R","v":"F","x":72.1,"y":27.5},{"r":9,"s":"R","v":"F","x":69.5,"y":17.5},{"r":9,"s":"R","v":"F","x":66.8,"y":8.6},{"r":9,"s":"R","v":"F","x":64.2,"y":1.5},{"r":9,"s":"R","v":"F","x":61.6,"y":0},{"r":9,"s":"R","v":"F","x":56.3,"y":0},{"r":9,"s":"R","v":"F","x":50,"y":-1.5},
{"r":9,"s":"R","v":"dF","x":83.6,"y":7.6},{"r":9,"s":"R","v":"dF","x":82.9,"y":13.7},{"r":9,"s":"R","v":"dF","x":80,"y":5},{"r":9,"s":"R","v":"dF","x":77.4,"y":1.5},{"r":9,"s":"R","v":"dF","x":74.7,"y":-8.6},{"r":9,"s":"R","v":"dF","x":72.1,"y":-11.7},{"r":9,"s":"R","v":"dF","x":68.2,"y":-11.7},{"r":9,"s":"R","v":"dF","x":65.5,"y":-5},{"r":9,"s":"R","v":"dF","x":62.9,"y":0},{"r":9,"s":"R","v":"dF","x":58.9,"y":1},{"r":9,"s":"R","v":"dF","x":53.7,"y":0},{"r":9,"s":"R","v":"dF","x":50,"y":-1.5}
]
},
"concat":[
{"width":583,"height":131,"layer":[{"data":{"name":"c"},"transform":[{"filter":"datum.r==1&&datum.s=='L'"}],"mark":{"type":"line","clip":true},"encoding":{"x":{"field":"x","type":"quantitative","scale":{"domain":[50,90],"nice":false,"zero":false},"axis":{"values":[50,55,60,65,70,75,80,85,90],"labels":false,"title":null}},"y":{"field":"y","type":"quantitative","scale":{"domain":[-100,100],"nice":false,"zero":false},"axis":{"values":[-50,0,50],"title":null}},"color":{"field":"v","type":"nominal","scale":{"domain":["F","dF"],"range":["#000000","#0000ff"]},"legend":null},"strokeDash":{"field":"v","type":"nominal","scale":{"domain":["F","dF"],"range":[[1,0],[9,5]]},"legend":null}}},{"data":{"name":"t"},"transform":[{"filter":"datum.r==1&&datum.s=='L'"}],"layer":[{"mark":{"type":"text","dx":3.5,"dy":6},"encoding":{"x":{"datum":50},"y":{"datum":100},"text":{"field":"ut"}}},{"mark":{"type":"text","dx":3,"dy":92},"encoding":{"x":{"datum":50},"y":{"datum":100},"text":{"field":"cn"}}},{"transform":[{"filter":"datum.bc=='green'"}],"layer":[{"mark":{"type":"rule","color":"#008000"},"encoding":{"x":{"field":"bx","type":"quantitative"}}},{"mark":{"type":"text","dx":1,"dy":82},"encoding":{"x":{"field":"bx","type":"quantitative"},"y":{"datum":100},"text":{"field":"bl"}}}]},{"transform":[{"filter":"datum.bc=='red'"}],"layer":[{"mark":{"type":"rule","color":"#ff0000"},"encoding":{"x":{"field":"bx","type":"quantitative"}}},{"mark":{"type":"text","dx":1,"dy":6},"encoding":{"x":{"field":"bx","type":"quantitative"},"y":{"datum":100},"text":{"field":"bl"}}}]}]}]},
{"width":583,"height":131,"layer":[{"data":{"name":"c"},"transform":[{"filter":"datum.r==1&&datum.s=='R'"}],"mark":{"type":"line","clip":true},"encoding":{"x":{"field":"x","type":"quantitative","scale":{"domain":[50,90],"reverse":true,"nice":false,"zero":false},"axis":{"values":[50,55,60,65,70,75,80,85,90],"labels":false,"title":null}},"y":{"field":"y","type":"quantitative","scale":{"domain":[-100,100],"nice":false,"zero":false},"axis":{"values":[-50,0,50],"title":null,"orient":"right"}},"color":{"field":"v","type":"nominal","scale":{"domain":["F","dF"],"range":["#000000","#0000ff"]},"legend":null},"strokeDash":{"field":"v","type":"nominal","scale":{"domain":["F","dF"],"range":[[1,0],[9,5]]},"legend":null}}},{"data":{"name":"t"},"transform":[{"filter":"datum.r==1&&datum.s=='R'"}],"layer":[{"mark":{"type":"text","dy":92},"encoding":{"x":{"datum":56},"y":{"datum":100},"text":{"field":"cn"}}},{"transform":[{"filter":"datum.bc=='green'"}],"layer":[{"mark":{"type":"rule","color":"#008000"},"encoding":{"x":{"field":"bx","type":"quantitative"}}},{"mark":{"type":"text","dx":1,"dy":82},"encoding":{"x":{"field":"bx","type":"quantitative"},"y":{"datum":100},"text":{"field":"bl"}}}]}]}]},
{"width":583,"height":131,"layer":[{"data":{"name":"c"},"transform":[{"filter":"datum.r==2&&datum.s=='L'"}],"mark":{"type":"line","clip":true},"encoding":{"x":{"field":"x","type":"quantitative","scale":{"domain":[50,90],"nice":false,"zero":false},"axis":{"values":[50,55,60,65,70,75,80,85,90],"labels":false,"title":null}},"y":{"field":"y","type":"quantitative","scale":{"domain":[-100,100],"nice":false,"zero":false},"axis":{"values":[-50,0,50],"title":null}},"color":{"field":"v","type":"nominal","scale":{"domain":["F","dF"],"range":["#000000","#0000ff"]},"legend":null},"strokeDash":{"field":"v","type":"nominal","scale":{"domain":["F","dF"],"range":[[1,0],[9,5]]},"legend":null}}},{"data":{"name":"t"},"transform":[{"filter":"datum.r==2&&datum.s=='L'"}],"layer":[{"mark":{"type":"text","dx":3.5,"dy":6},"encoding":{"x":{"datum":50},"y":{"datum":100},"text":{"field":"ut"}}},{"mark":{"type":"text","dx":3,"dy":92},"encoding":{"x":{"datum":50},"y":{"datum":100},"text":{"field":"cn"}}},{"transform":[{"filter":"datum.bc=='green'"}],"layer":[{"mark":{"type":"rule","color":"#008000"},"encoding":{"x":{"field":"bx","type":"quantitative"}}},{"mark":{"type":"text","dx":1,"dy":82},"encoding":{"x":{"field":"bx","type":"quantitative"},"y":{"datum":100},"text":{"field":"bl"}}}]},{"transform":[{"filter":"datum.bc=='red'"}],"layer":[{"mark":{"type":"rule","color":"#ff0000"},"encoding":{"x":{"field":"bx","type":"quantitative"}}},{"mark":{"type":"text","dx":1,"dy":6},"encoding":{"x":{"field":"bx","type":"quantitative"},"y":{"datum":100},"text":{"field":"bl"}}}]}]}]},
{"width":583,"height":131,"layer":[{"data":{"name":"c"},"transform":[{"filter":"datum.r==2&&datum.s=='R'"}],"mark":{"type":"line","clip":true},"encoding":{"x":{"field":"x","type":"quantitative","scale":{"domain":[50,90],"reverse":true,"nice":false,"zero":false},"axis":{"values":[50,55,60,65,70,75,80,85,90],"labels":false,"title":null}},"y":{"field":"y","type":"quantitative","scale":{"domain":[-100,100],"nice":false,"zero":false},"axis":{"values":[-50,0,50],"title":null,"orient":"right"}},"color":{"field":"v","type":"nominal","scale":{"domain":["F","dF"],"range":["#000000","#0000ff"]},"legend":null},"strokeDash":{"field":"v","type":"nominal","scale":{"domain":["F","dF"],"range":[[1,0],[9,5]]},"legend":null}}},{"data":{"name":"t"},"transform":[{"filter":"datum.r==2&&datum.s=='R'"}],"layer":[{"mark":{"type":"text","dy":92},"encoding":{"x":{"datum":56},"y":{"datum":100},"text":{"field":"cn"}}},{"transform":[{"filter":"datum.bc=='green'"}],"layer":[{"mark":{"type":"rule","color":"#008000"},"encoding":{"x":{"field":"bx","type":"quantitative"}}},{"mark":{"type":"text","dx":1,"dy":82},"encoding":{"x":{"field":"bx","type":"quantitative"},"y":{"datum":100},"text":{"field":"bl"}}}]}]}]},
{"width":583,"height":131,"layer":[{"data":{"name":"c"},"transform":[{"filter":"datum.r==3&&datum.s=='L'"}],"mark":{"type":"line","clip":true},"encoding":{"x":{"field":"x","type":"quantitative","scale":{"domain":[50,90],"nice":false,"zero":false},"axis":{"values":[50,55,60,65,70,75,80,85,90],"labels":false,"title":null}},"y":{"field":"y","type":"quantitative","scale":{"domain":[-100,100],"nice":false,"zero":false},"axis":{"values":[-50,0,50],"title":null}},"color":{"field":"v","type":"nominal","scale":{"domain":["F","dF"],"range":["#000000","#0000ff"]},"legend":null},"strokeDash":{"field":"v","type":"nominal","scale":{"domain":["F","dF"],"range":[[1,0],[9,5]]},"legend":null}}},{"data":{"name":"t"},"transform":[{"filter":"datum.r==3&&datum.s=='L'"}],"layer":[{"mark":{"type":"text","dx":3.5,"dy":6},"encoding":{"x":{"datum":50},"y":{"datum":100},"text":{"field":"ut"}}},{"mark":{"type":"text","dx":3,"dy":92},"encoding":{"x":{"datum":50},"y":{"datum":100},"text":{"field":"cn"}}},{"transform":[{"filter":"datum.bc=='green'"}],"layer":[{"mark":{"type":"rule","color":"#008000"},"encoding":{"x":{"field":"bx","type":"quantitative"}}},{"mark":{"type":"text","dx":1,"dy":82},"encoding":{"x":{"field":"bx","type":"quantitative"},"y":{"datum":100},"text":{"field":"bl"}}}]},{"transform":[{"filter":"datum.bc=='red'"}],"layer":[{"mark":{"type":"rule","color":"#ff0000"},"encoding":{"x":{"field":"bx","type":"quantitative"}}},{"mark":{"type":"text","dx":1,"dy":6},"encoding":{"x":{"field":"bx","type":"quantitative"},"y":{"datum":100},"text":{"field":"bl"}}}]}]}]},
{"width":583,"height":131,"layer":[{"data":{"name":"c"},"transform":[{"filter":"datum.r==3&&datum.s=='R'"}],"mark":{"type":"line","clip":true},"encoding":{"x":{"field":"x","type":"quantitative","scale":{"domain":[50,90],"reverse":true,"nice":false,"zero":false},"axis":{"values":[50,55,60,65,70,75,80,85,90],"labels":false,"title":null}},"y":{"field":"y","type":"quantitative","scale":{"domain":[-100,100],"nice":false,"zero":false},"axis":{"values":[-50,0,50],"title":null,"orient":"right"}},"color":{"field":"v","type":"nominal","scale":{"domain":["F","dF"],"range":["#000000","#0000ff"]},"legend":null},"strokeDash":{"field":"v","type":"nominal","scale":{"domain":["F","dF"],"range":[[1,0],[9,5]]},"legend":null}}},{"data":{"name":"t"},"transform":[{"filter":"datum.r==3&&datum.s=='R'"}],"layer":[{"mark":{"type":"text","dy":92},"encoding":{"x":{"datum":56},"y":{"datum":100},"text":{"field":"cn"}}},{"transform":[{"filter":"datum.bc=='green'"}],"layer":[{"mark":{"type":"rule","color":"#008000"},"encoding":{"x":{"field":"bx","type":"quantitative"}}},{"mark":{"type":"text","dx":1,"dy":82},"encoding":{"x":{"field":"bx","type":"quantitative"},"y":{"datum":100},"text":{"field":"bl"}}}]}]}]},
{"width":583,"height":131,"layer":[{"data":{"name":"c"},"transform":[{"filter":"datum.r==4&&datum.s=='L'"}],"mark":{"type":"line","clip":true},"encoding":{"x":{"field":"x","type":"quantitative","scale":{"domain":[50,90],"nice":false,"zero":false},"axis":{"values":[50,55,60,65,70,75,80,85,90],"labels":false,"title":null}},"y":{"field":"y","type":"quantitative","scale":{"domain":[-100,100],"nice":false,"zero":false},"axis":{"values":[-50,0,50],"title":null}},"color":{"field":"v","type":"nominal","scale":{"domain":["F","dF"],"range":["#000000","#0000ff"]},"legend":null},"strokeDash":{"field":"v","type":"nominal","scale":{"domain":["F","dF"],"range":[[1,0],[9,5]]},"legend":null}}},{"data":{"name":"t"},"transform":[{"filter":"datum.r==4&&datum.s=='L'"}],"layer":[{"mark":{"type":"text","dx":3.5,"dy":6},"encoding":{"x":{"datum":50},"y":{"datum":100},"text":{"field":"ut"}}},{"mark":{"type":"text","dx":3,"dy":92},"encoding":{"x":{"datum":50},"y":{"datum":100},"text":{"field":"cn"}}},{"transform":[{"filter":"datum.bc=='green'"}],"layer":[{"mark":{"type":"rule","color":"#008000"},"encoding":{"x":{"field":"bx","type":"quantitative"}}},{"mark":{"type":"text","dx":1,"dy":82},"encoding":{"x":{"field":"bx","type":"quantitative"},"y":{"datum":100},"text":{"field":"bl"}}}]},{"transform":[{"filter":"datum.bc=='red'"}],"layer":[{"mark":{"type":"rule","color":"#ff0000"},"encoding":{"x":{"field":"bx","type":"quantitative"}}},{"mark":{"type":"text","dx":1,"dy":6},"encoding":{"x":{"field":"bx","type":"quantitative"},"y":{"datum":100},"text":{"field":"bl"}}}]}]}]},
{"width":583,"height":131,"layer":[{"data":{"name":"c"},"transform":[{"filter":"datum.r==4&&datum.s=='R'"}],"mark":{"type":"line","clip":true},"encoding":{"x":{"field":"x","type":"quantitative","scale":{"domain":[50,90],"reverse":true,"nice":false,"zero":false},"axis":{"values":[50,55,60,65,70,75,80,85,90],"labels":false,"title":null}},"y":{"field":"y","type":"quantitative","scale":{"domain":[-100,100],"nice":false,"zero":false},"axis":{"values":[-50,0,50],"title":null,"orient":"right"}},"color":{"field":"v","type":"nominal","scale":{"domain":["F","dF"],"range":["#000000","#0000ff"]},"legend":null},"strokeDash":{"field":"v","type":"nominal","scale":{"domain":["F","dF"],"range":[[1,0],[9,5]]},"legend":null}}},{"data":{"name":"t"},"transform":[{"filter":"datum.r==4&&datum.s=='R'"}],"layer":[{"mark":{"type":"text","dy":92},"encoding":{"x":{"datum":56},"y":{"datum":100},"text":{"field":"cn"}}},{"transform":[{"filter":"datum.bc=='green'"}],"layer":[{"mark":{"type":"rule","color":"#008000"},"encoding":{"x":{"field":"bx","type":"quantitative"}}},{"mark":{"type":"text","dx":1,"dy":82},"encoding":{"x":{"field":"bx","type":"quantitative"},"y":{"datum":100},"text":{"field":"bl"}}}]}]}]},
{"width":583,"height":131,"layer":[{"data":{"name":"c"},"transform":[{"filter":"datum.r==5&&datum.s=='L'"}],"mark":{"type":"line","clip":true},"encoding":{"x":{"field":"x","type":"quantitative","scale":{"domain":[50,90],"nice":false,"zero":false},"axis":{"values":[50,55,60,65,70,75,80,85,90],"labels":false,"title":null}},"y":{"field":"y","type":"quantitative","scale":{"domain":[-100,100],"nice":false,"zero":false},"axis":{"values":[-50,0,50],"title":null}},"color":{"field":"v","type":"nominal","scale":{"domain":["F","dF"],"range":["#000000","#0000ff"]},"legend":null},"strokeDash":{"field":"v","type":"nominal","scale":{"domain":["F","dF"],"range":[[1,0],[9,5]]},"legend":null}}},{"data":{"name":"t"},"transform":[{"filter":"datum.r==5&&datum.s=='L'"}],"layer":[{"mark":{"type":"text","dx":3.5,"dy":6},"encoding":{"x":{"datum":50},"y":{"datum":100},"text":{"field":"ut"}}},{"mark":{"type":"text","dx":3,"dy":92},"encoding":{"x":{"datum":50},"y":{"datum":100},"text":{"field":"cn"}}},{"transform":[{"filter":"datum.bc=='green'"}],"layer":[{"mark":{"type":"rule","color":"#008000"},"encoding":{"x":{"field":"bx","type":"quantitative"}}},{"mark":{"type":"text","dx":1,"dy":82},"encoding":{"x":{"field":"bx","type":"quantitative"},"y":{"datum":100},"text":{"field":"bl"}}}]},{"transform":[{"filter":"datum.bc=='red'"}],"layer":[{"mark":{"type":"rule","color":"#ff0000"},"encoding":{"x":{"field":"bx","type":"quantitative"}}},{"mark":{"type":"text","dx":1,"dy":6},"encoding":{"x":{"field":"bx","type":"quantitative"},"y":{"datum":100},"text":{"field":"bl"}}}]}]}]},
{"width":583,"height":131,"layer":[{"data":{"name":"c"},"transform":[{"filter":"datum.r==5&&datum.s=='R'"}],"mark":{"type":"line","clip":true},"encoding":{"x":{"field":"x","type":"quantitative","scale":{"domain":[50,90],"reverse":true,"nice":false,"zero":false},"axis":{"values":[50,55,60,65,70,75,80,85,90],"labels":false,"title":null}},"y":{"field":"y","type":"quantitative","scale":{"domain":[-100,100],"nice":false,"zero":false},"axis":{"values":[-50,0,50],"title":null,"orient":"right"}},"color":{"field":"v","type":"nominal","scale":{"domain":["F","dF"],"range":["#000000","#0000ff"]},"legend":null},"strokeDash":{"field":"v","type":"nominal","scale":{"domain":["F","dF"],"range":[[1,0],[9,5]]},"legend":null}}},{"data":{"name":"t"},"transform":[{"filter":"datum.r==5&&datum.s=='R'"}],"layer":[{"mark":{"type":"text","dy":92},"encoding":{"x":{"datum":56},"y":{"datum":100},"text":{"field":"cn"}}},{"transform":[{"filter":"datum.bc=='green'"}],"layer":[{"mark":{"type":"rule","color":"#008000"},"encoding":{"x":{"field":"bx","type":"quantitative"}}},{"mark":{"type":"text","dx":1,"dy":82},"encoding":{"x":{"field":"bx","type":"quantitative"},"y":{"datum":100},"text":{"field":"bl"}}}]}]}]},
{"width":583,"height":131,"layer":[{"data":{"name":"c"},"transform":[{"filter":"datum.r==6&&datum.s=='L'"}],"mark":{"type":"line","clip":true},"encoding":{"x":{"field":"x","type":"quantitative","scale":{"domain":[50,90],"nice":false,"zero":false},"axis":{"values":[50,55,60,65,70,75,80,85,90],"labels":false,"title":null}},"y":{"field":"y","type":"quantitative","scale":{"domain":[-100,100],"nice":false,"zero":false},"axis":{"values":[-50,0,50],"title":null}},"color":{"field":"v","type":"nominal","scale":{"domain":["F","dF"],"range":["#000000","#0000ff"]},"legend":null},"strokeDash":{"field":"v","type":"nominal","scale":{"domain":["F","dF"],"range":[[1,0],[9,5]]},"legend":null}}},{"data":{"name":"t"},"transform":[{"filter":"datum.r==6&&datum.s=='L'"}],"layer":[{"mark":{"type":"text","dx":3.5,"dy":6},"encoding":{"x":{"datum":50},"y":{"datum":100},"text":{"field":"ut"}}},{"mark":{"type":"text","dx":3,"dy":92},"encoding":{"x":{"datum":50},"y":{"datum":100},"text":{"field":"cn"}}}]}]},
{"width":583,"height":131,"layer":[{"data":{"name":"c"},"transform":[{"filter":"datum.r==6&&datum.s=='R'"}],"mark":{"type":"line","clip":true},"encoding":{"x":{"field":"x","type":"quantitative","scale":{"domain":[50,90],"reverse":true,"nice":false,"zero":false},"axis":{"values":[50,55,60,65,70,75,80,85,90],"labels":false,"title":null}},"y":{"field":"y","type":"quantitative","scale":{"domain":[-100,100],"nice":false,"zero":false},"axis":{"values":[-50,0,50],"title":null,"orient":"right"}},"color":{"field":"v","type":"nominal","scale":{"domain":["F","dF"],"range":["#000000","#0000ff"]},"legend":null},"strokeDash":{"field":"v","type":"nominal","scale":{"domain":["F","dF"],"range":[[1,0],[9,5]]},"legend":null}}},{"data":{"name":"t"},"transform":[{"filter":"datum.r==6&&datum.s=='R'"}],"layer":[{"mark":{"type":"text","dy":92},"encoding":{"x":{"datum":56},"y":{"datum":100},"text":{"field":"cn"}}},{"transform":[{"filter":"datum.bc=='green'"}],"layer":[{"mark":{"type":"rule","color":"#008000"},"encoding":{"x":{"field":"bx","type":"quantitative"}}},{"mark":{"type":"text","dx":1,"dy":82},"encoding":{"x":{"field":"bx","type":"quantitative"},"y":{"datum":100},"text":{"field":"bl"}}}]}]}]},
{"width":583,"height":131,"layer":[{"data":{"name":"c"},"transform":[{"filter":"datum.r==7&&datum.s=='L'"}],"mark":{"type":"line","clip":true},"encoding":{"x":{"field":"x","type":"quantitative","scale":{"domain":[50,90],"nice":false,"zero":false},"axis":{"values":[50,55,60,65,70,75,80,85,90],"labels":false,"title":null}},"y":{"field":"y","type":"quantitative","scale":{"domain":[-100,100],"nice":false,"zero":false},"axis":{"values":[-50,0,50],"title":null}},"color":{"field":"v","type":"nominal","scale":{"domain":["F","dF"],"range":["#000000","#0000ff"]},"legend":null},"strokeDash":{"field":"v","type":"nominal","scale":{"domain":["F","dF"],"range":[[1,0],[9,5]]},"legend":null}}},{"data":{"name":"t"},"transform":[{"filter":"datum.r==7&&datum.s=='L'"}],"layer":[{"mark":{"type":"text","dx":3.5,"dy":6},"encoding":{"x":{"datum":50},"y":{"datum":100},"text":{"field":"ut"}}},{"mark":{"type":"text","dx":3,"dy":92},"encoding":{"x":{"datum":50},"y":{"datum":100},"text":{"field":"cn"}}},{"transform":[{"filter":"datum.bc=='green'"}],"layer":[{"mark":{"type":"rule","color":"#008000"},"encoding":{"x":{"field":"bx","type":"quantitative"}}},{"mark":{"type":"text","dx":1,"dy":82},"encoding":{"x":{"field":"bx","type":"quantitative"},"y":{"datum":100},"text":{"field":"bl"}}}]},{"transform":[{"filter":"datum.bc=='red'"}],"layer":[{"mark":{"type":"rule","color":"#ff0000"},"encoding":{"x":{"field":"bx","type":"quantitative"}}},{"mark":{"type":"text","dx":1,"dy":6},"encoding":{"x":{"field":"bx","type":"quantitative"},"y":{"datum":100},"text":{"field":"bl"}}}]}]}]},
{"width":583,"height":131,"layer":[{"data":{"name":"c"},"transform":[{"filter":"datum.r==7&&datum.s=='R'"}],"mark":{"type":"line","clip":true},"encoding":{"x":{"field":"x","type":"quantitative","scale":{"domain":[50,90],"reverse":true,"nice":false,"zero":false},"axis":{"values":[50,55,60,65,70,75,80,85,90],"labels":false,"title":null}},"y":{"field":"y","type":"quantitative","scale":{"domain":[-100,100],"nice":false,"zero":false},"axis":{"values":[-50,0,50],"title":null,"orient":"right"}},"color":{"field":"v","type":"nominal","scale":{"domain":["F","dF"],"range":["#000000","#0000ff"]},"legend":null},"strokeDash":{"field":"v","type":"nominal","scale":{"domain":["F","dF"],"range":[[1,0],[9,5]]},"legend":null}}},{"data":{"name":"t"},"transform":[{"filter":"datum.r==7&&datum.s=='R'"}],"layer":[{"mark":{"type":"text","dy":92},"encoding":{"x":{"datum":56},"y":{"datum":100},"text":{"field":"cn"}}},{"transform":[{"filter":"datum.bc=='green'"}],"layer":[{"mark":{"type":"rule","color":"#008000"},"encoding":{"x":{"field":"bx","type":"quantitative"}}},{"mark":{"type":"text","dx":1,"dy":82},"encoding":{"x":{"field":"bx","type":"quantitative"},"y":{"datum":100},"text":{"field":"bl"}}}]}]}]},
{"width":583,"height":131,"layer":[{"data":{"name":"c"},"transform":[{"filter":"datum.r==8&&datum.s=='L'"}],"mark":{"type":"line","clip":true},"encoding":{"x":{"field":"x","type":"quantitative","scale":{"domain":[50,90],"nice":false,"zero":false},"axis":{"values":[50,55,60,65,70,75,80,85,90],"labels":false,"title":null}},"y":{"field":"y","type":"quantitative","scale":{"domain":[-100,100],"nice":false,"zero":false},"axis":{"values":[-50,0,50],"title":null}},"color":{"field":"v","type":"nominal","scale":{"domain":["F","dF"],"range":["#000000","#0000ff"]},"legend":null},"strokeDash":{"field":"v","type":"nominal","scale":{"domain":["F","dF"],"range":[[1,0],[9,5]]},"legend":null}}},{"data":{"name":"t"},"transform":[{"filter":"datum.r==8&&datum.s=='L'"}],"layer":[{"mark":{"type":"text","dx":3.5,"dy":6},"encoding":{"x":{"datum":50},"y":{"datum":100},"text":{"field":"ut"}}},{"mark":{"type":"text","dx":3,"dy":92},"encoding":{"x":{"datum":50},"y":{"datum":100},"text":{"field":"cn"}}},{"transform":[{"filter":"datum.bc=='green'"}],"layer":[{"mark":{"type":"rule","color":"#008000"},"encoding":{"x":{"field":"bx","type":"quantitative"}}},{"mark":{"type":"text","dx":1,"dy":82},"encoding":{"x":{"field":"bx","type":"quantitative"},"y":{"datum":100},"text":{"field":"bl"}}}]},{"transform":[{"filter":"datum.bc=='red'"}],"layer":[{"mark":{"type":"rule","color":"#ff0000"},"encoding":{"x":{"field":"bx","type":"quantitative"}}},{"mark":{"type":"text","dx":1,"dy":6},"encoding":{"x":{"field":"bx","type":"quantitative"},"y":{"datum":100},"text":{"field":"bl"}}}]}]}]},
{"width":583,"height":131,"layer":[{"data":{"name":"c"},"transform":[{"filter":"datum.r==8&&datum.s=='R'"}],"mark":{"type":"line","clip":true},"encoding":{"x":{"field":"x","type":"quantitative","scale":{"domain":[50,90],"reverse":true,"nice":false,"zero":false},"axis":{"values":[50,55,60,65,70,75,80,85,90],"labels":false,"title":null}},"y":{"field":"y","type":"quantitative","scale":{"domain":[-100,100],"nice":false,"zero":false},"axis":{"values":[-50,0,50],"title":null,"orient":"right"}},"color":{"field":"v","type":"nominal","scale":{"domain":["F","dF"],"range":["#000000","#0000ff"]},"legend":null},"strokeDash":{"field":"v","type":"nominal","scale":{"domain":["F","dF"],"range":[[1,0],[9,5]]},"legend":null}}},{"data":{"name":"t"},"transform":[{"filter":"datum.r==8&&datum.s=='R'"}],"layer":[{"mark":{"type":"text","dy":92},"encoding":{"x":{"datum":56},"y":{"datum":100},"text":{"field":"cn"}}},{"transform":[{"filter":"datum.bc=='green'"}],"layer":[{"mark":{"type":"rule","color":"#008000"},"encoding":{"x":{"field":"bx","type":"quantitative"}}},{"mark":{"type":"text","dx":1,"dy":82},"encoding":{"x":{"field":"bx","type":"quantitative"},"y":{"datum":100},"text":{"field":"bl"}}}]}]}]},
{"width":583,"height":131,"layer":[{"data":{"name":"c"},"transform":[{"filter":"datum.r==9&&datum.s=='L'"}],"mark":{"type":"line","clip":true},"encoding":{"x":{"field":"x","type":"quantitative","scale":{"domain":[50,90],"nice":false,"zero":false},"axis":{"values":[50,55,60,65,70,75,80,85,90],"title":"Ascending MLAT"}},"y":{"field":"y","type":"quantitative","scale":{"domain":[-100,100],"nice":false,"zero":false},"axis":{"values":[-50,0,50],"title":"F / nT (black), 50*dF/dt (blue)"}},"color":{"field":"v","type":"nominal","scale":{"domain":["F","dF"],"range":["#000000","#0000ff"]},"legend":null},"strokeDash":{"field":"v","type":"nominal","scale":{"domain":["F","dF"],"range":[[1,0],[9,5]]},"legend":null}}},{"data":{"name":"t"},"transform":[{"filter":"datum.r==9&&datum.s=='L'"}],"layer":[{"mark":{"type":"text","dx":3.5,"dy":6},"encoding":{"x":{"datum":50},"y":{"datum":100},"text":{"field":"ut"}}},{"mark":{"type":"text","dx":3,"dy":92},"encoding":{"x":{"datum":50},"y":{"datum":100},"text":{"field":"cn"}}},{"transform":[{"filter":"datum.bc=='green'"}],"layer":[{"mark":{"type":"rule","color":"#008000"},"encoding":{"x":{"field":"bx","type":"quantitative"}}},{"mark":{"type":"text","dx":1,"dy":82},"encoding":{"x":{"field":"bx","type":"quantitative"},"y":{"datum":100},"text":{"field":"bl"}}}]},{"transform":[{"filter":"datum.bc=='red'"}],"layer":[{"mark":{"type":"rule","color":"#ff0000"},"encoding":{"x":{"field":"bx","type":"quantitative"}}},{"mark":{"type":"text","dx":1,"dy":6},"encoding":{"x":{"field":"bx","type":"quantitative"},"y":{"datum":100},"text":{"field":"bl"}}}]}]}]},
{"width":583,"height":131,"layer":[{"data":{"name":"c"},"transform":[{"filter":"datum.r==9&&datum.s=='R'"}],"mark":{"type":"line","clip":true},"encoding":{"x":{"field":"x","type":"quantitative","scale":{"domain":[50,90],"reverse":true,"nice":false,"zero":false},"axis":{"values":[50,55,60,65,70,75,80,85,90],"title":"Descending MLAT"}},"y":{"field":"y","type":"quantitative","scale":{"domain":[-100,100],"nice":false,"zero":false},"axis":{"values":[-50,0,50],"title":null,"orient":"right"}},"color":{"field":"v","type":"nominal","scale":{"domain":["F","dF"],"range":["#000000","#0000ff"]},"legend":null},"strokeDash":{"field":"v","type":"nominal","scale":{"domain":["F","dF"],"range":[[1,0],[9,5]]},"legend":null}}},{"data":{"name":"t"},"transform":[{"filter":"datum.r==9&&datum.s=='R'"}],"layer":[{"mark":{"type":"text","dy":92},"encoding":{"x":{"datum":56},"y":{"datum":100},"text":{"field":"cn"}}},{"transform":[{"filter":"datum.bc=='green'"}],"layer":[{"mark":{"type":"rule","color":"#008000"},"encoding":{"x":{"field":"bx","type":"quantitative"}}},{"mark":{"type":"text","dx":1,"dy":82},"encoding":{"x":{"field":"bx","type":"quantitative"},"y":{"datum":100},"text":{"field":"bl"}}}]}]}]}
],
"config":{
"font":"DejaVu Sans",
"view":{"stroke":"#000000","strokeWidth":2},
"axis":{"grid":true,"gridColor":"#000000","gridDash":[1.5,3],"gridOpacity":0.75,"gridWidth":1,"domain":false,"ticks":true,"tickSize":-5,"tickColor":"#000000","tickWidth":1,"labelFont":"DejaVu Sans","labelFontSize":16,"labelColor":"#000000","labelFlush":false,"labelOverlap":false,"titleFont":"DejaVu Sans","titleFontSize":16,"titleFontWeight":"normal","titleColor":"#000000"},
"axisLeft":{"labelPadding":11,"titlePadding":11},
"axisRight":{"labelPadding":9},
"axisBottom":{"labelPadding":10,"titlePadding":8},
"line":{"strokeWidth":1.5,"interpolate":"monotone"},
"rule":{"strokeWidth":3},
"text":{"fontSize":16,"align":"left","baseline":"top","lineBreak":"\n","lineHeight":19,"font":"DejaVu Sans","fill":"#000000"}
}
}
